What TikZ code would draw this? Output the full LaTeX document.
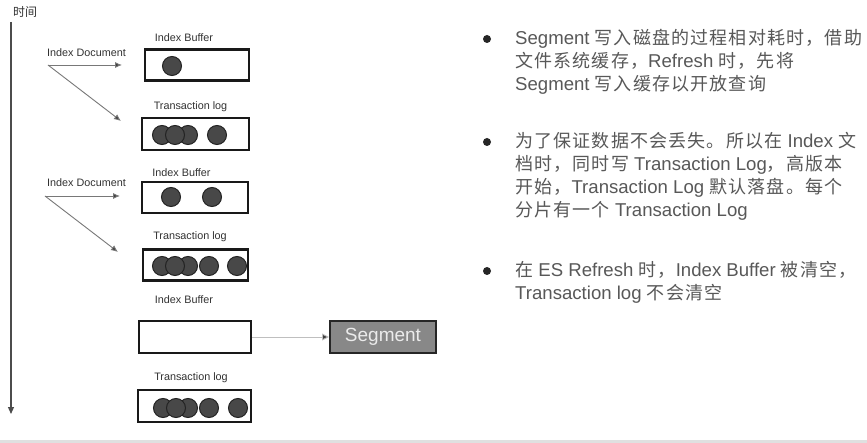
\documentclass[tikz,border=0pt]{standalone}
\usepackage{fontspec}
\setmainfont{Liberation Sans}
\newfontfamily\cjkfont[LetterSpace=6.5]{Noto Sans CJK SC}
\newfontfamily\cjksmall{Noto Sans CJK SC}
\usetikzlibrary{arrows.meta}
\definecolor{txt}{RGB}{88,88,88}
\definecolor{lbl}{RGB}{50,50,50}
\definecolor{dotfill}{RGB}{72,72,72}
\definecolor{dotline}{RGB}{35,35,35}
\definecolor{conn}{RGB}{120,120,120}
\definecolor{segfill}{RGB}{136,136,136}
\newcommand\zhs[1]{{\fontsize{18}{18}\cjkfont #1}}
\newcommand\enr[1]{{\fontsize{18.6}{20}\selectfont #1}}
\newcommand\lblfont{\fontsize{10.8}{12}\selectfont}
\tikzset{
  bufbox/.style={draw=black!90, line width=2.4pt, fill=white, inner sep=0pt},
  doc/.style={circle, draw=dotline, line width=1pt, fill=dotfill, minimum size=19pt, inner sep=0pt},
  lbltext/.style={font=\lblfont, text=lbl, inner sep=0pt},
  rtext/.style={text=txt, inner sep=0pt, anchor=base west},
  bulletdot/.style={circle, fill=black!85, minimum size=8pt, inner sep=0pt},
  flow/.style={draw=conn, line width=0.9pt, -{Latex[length=7pt,width=6pt,fill=black!75]}},
}
\begin{document}
\begin{tikzpicture}[x=1pt,y=-1pt]
\useasboundingbox (0,0) rectangle (867,443);
\fill[white] (0,0) rectangle (867,443);
\fill[black!12] (0,440) rectangle (867,443);

% timeline
\node[font=\fontsize{12}{12}\cjksmall, text=lbl, inner sep=0pt] (tlabel) at (25,12) {时间};
\coordinate (tA) at (11,22);
\coordinate (tB) at (11,414);
\draw[draw=black!70, line width=1.2pt, -{Triangle[length=7pt,width=6pt]}] (tA) -- (tB);

% group 1
\node[lbltext] (id1) at (86.5,53) {Index Document};
\node[lbltext] (ib1) at (184,38) {Index Buffer};
\node[lbltext] (tl1) at (190.5,107) {Transaction log};
\node[bufbox, minimum width=104pt, minimum height=31pt] (box1) at (197,65) {};
\node[bufbox, minimum width=107pt, minimum height=32pt] (box2) at (195.5,134) {};
\coordinate (s1) at (48,65);
\coordinate (e1a) at (122,65);
\coordinate (e1b) at (121,121);
\draw[flow] (s1) -- (e1a);
\draw[flow] (s1) -- (e1b);
\node[doc] (c11) at (172,66) {};
\node[doc] (c21) at (162,135) {};
\node[doc] (c23) at (188,135) {};
\node[doc] (c22) at (175,135) {};
\node[doc] (c24) at (217,135) {};

% group 2
\node[lbltext] (id2) at (86.5,183) {Index Document};
\node[lbltext] (ib2) at (181.5,173) {Index Buffer};
\node[lbltext] (tl2) at (190,237) {Transaction log};
\node[bufbox, minimum width=106pt, minimum height=31pt] (box3) at (195,197.5) {};
\node[bufbox, minimum width=105pt, minimum height=31pt] (box4) at (195.5,265) {};
\coordinate (s2) at (45,196);
\coordinate (e2a) at (120,196);
\coordinate (e2b) at (118,252);
\draw[flow] (s2) -- (e2a);
\draw[flow] (s2) -- (e2b);
\node[doc] (c31) at (171,197) {};
\node[doc] (c32) at (212,197) {};
\node[doc] (c41) at (162,266) {};
\node[doc] (c43) at (188,266) {};
\node[doc] (c42) at (175,266) {};
\node[doc] (c44) at (209,266) {};
\node[doc] (c45) at (237,266) {};

% group 3
\node[lbltext] (ib3) at (184,300) {Index Buffer};
\node[lbltext] (tl3) at (191,378) {Transaction log};
\node[bufbox, minimum width=112pt, minimum height=32pt] (box5) at (195,337) {};
\node[bufbox, minimum width=113pt, minimum height=32pt] (box6) at (194.5,406) {};
\node[doc] (c61) at (163,408) {};
\node[doc] (c63) at (188,408) {};
\node[doc] (c62) at (176,408) {};
\node[doc] (c64) at (209,408) {};
\node[doc] (c65) at (238,408) {};
\node[draw=black!85, line width=2pt, fill=segfill, minimum width=106pt, minimum height=32pt, inner sep=0pt,
      text=white!92!black, font=\fontsize{19}{19}\selectfont] (seg) at (383,337) {Segment};
\draw[draw=black!25, line width=0.9pt, -{Triangle[length=7pt,width=7pt,fill=black!75]}] (box5.east) -- (seg.west);

% right text
\node[bulletdot] (d1) at (487,39) {};
\node[rtext] (l11) at (515,45) {\enr{Segment }\zhs{写入磁盘的过程相对耗时，借助}};
\node[rtext] (l12) at (515,68) {\zhs{文件系统缓存，}\enr{Refresh }\zhs{时，先将}};
\node[rtext] (l13) at (515,91) {\enr{Segment }\zhs{写入缓存以开放查询}};

\node[bulletdot] (d2) at (487,142) {};
\node[rtext] (l21) at (515,148) {\zhs{为了保证数据不会丢失。所以在}\enr{ Index }\zhs{文}};
\node[rtext] (l22) at (515,171) {\zhs{档时，同时写}\enr{ Transaction Log}\zhs{，高版本}};
\node[rtext] (l23) at (515,194) {\zhs{开始，}\enr{Transaction Log }\zhs{默认落盘。每个}};
\node[rtext] (l24) at (515,217) {\zhs{分片有一个}\enr{ Transaction Log}};

\node[bulletdot] (d3) at (487,271) {};
\node[rtext] (l31) at (515,277) {\zhs{在}\enr{ ES Refresh }\zhs{时，}\enr{Index Buffer }\zhs{被清空，}};
\node[rtext] (l32) at (515,300) {\enr{Transaction log }\zhs{不会清空}};
\end{tikzpicture}
\end{document}
